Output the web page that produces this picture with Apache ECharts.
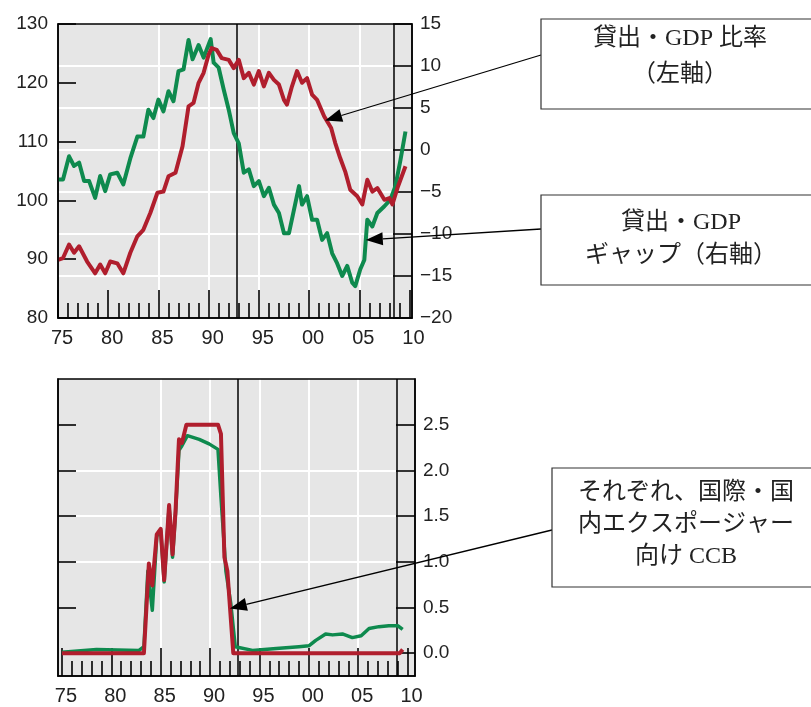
<!DOCTYPE html>
<html>
<head>
<meta charset="utf-8">
<script src="https://cdn.jsdelivr.net/npm/echarts@6/dist/echarts.min.js"></script>
<style>html,body{margin:0;padding:0;background:#fff}#c{width:811px;height:707px}</style>
</head>
<body>
<div id="c"></div>
<script>
// ---------- data ----------
const majorYears = [1975, 1980, 1985, 1990, 1995, 2000, 2005, 2010];
const gridYears = [1980, 1985, 1990, 1995, 2000, 2005, 2010];
const minorYears = [1976, 1977, 1978, 1979, 1981, 1982, 1983, 1984, 1986, 1987, 1988, 1989,
  1991, 1992, 1993, 1994, 1996, 1997, 1998, 1999, 2001, 2002, 2003, 2004, 2006, 2007, 2008, 2009];
const topBreakYears = [1992.75, 2008.4];
const bottomBreakYears = [1992.8, 2008.9];
const bottomTicks = [0.5, 1.0, 1.5, 2.0, 2.5];
const bottomLabels = [0.0, 0.5, 1.0, 1.5, 2.0, 2.5];

// Loans/GDP ratio (left axis)
const ratioYears = [1975.0, 1975.5, 1976.1, 1976.6, 1977.1, 1977.9, 1978.7, 1979.2, 1979.7, 1980.2,
  1980.9, 1981.5, 1982.2, 1982.9, 1983.5, 1984.2, 1984.9, 1985.5, 1986.0, 1986.7,
  1987.4, 1988.0, 1988.5, 1989.0, 1989.5, 1990.0, 1990.3, 1990.8, 1991.3, 1992.0,
  1992.5, 1993.0, 1993.5, 1994.0, 1994.5, 1995.0, 1995.5, 1996.0, 1996.5, 1997.0,
  1997.5, 1997.8, 1998.3, 1998.8, 1999.3, 1999.8, 2000.3, 2000.8, 2001.5, 2002.2,
  2002.6, 2003.1, 2003.6, 2004.1, 2004.8, 2005.3, 2005.8, 2006.3, 2006.8, 2007.5,
  2008.0, 2008.3, 2008.8, 2009.6];
const ratioValues = [89.9, 90.2, 92.5, 91.1, 92.2, 89.6, 87.6, 89.1, 87.6, 89.6,
  89.3, 87.6, 91.1, 93.9, 95.0, 97.9, 101.3, 101.5, 104.1, 104.7,
  109.2, 116.0, 116.6, 120.0, 121.7, 124.8, 125.9, 125.6, 124.2, 123.9,
  122.5, 123.9, 120.8, 121.7, 119.7, 122.0, 119.4, 121.7, 120.5, 119.7,
  117.1, 116.3, 119.4, 122.0, 120.0, 120.8, 118.0, 117.1, 114.3, 112.3,
  109.8, 107.2, 104.9, 101.8, 100.7, 99.3, 103.5, 101.5, 102.1, 100.1,
  100.4, 99.3, 102.1, 105.8];

// Loans/GDP gap (right axis)
const gapYears = [1975.0, 1975.5, 1976.1, 1976.6, 1977.1, 1977.6, 1978.1, 1978.7, 1979.2, 1979.7,
  1980.2, 1980.9, 1981.5, 1982.2, 1982.9, 1983.5, 1984.0, 1984.5, 1985.0, 1985.5,
  1986.0, 1986.5, 1987.0, 1987.5, 1988.0, 1988.4, 1989.0, 1989.5, 1990.2, 1990.5,
  1991.0, 1991.5, 1992.0, 1992.5, 1993.0, 1993.5, 1994.0, 1994.5, 1995.0, 1995.5,
  1996.0, 1996.5, 1997.0, 1997.5, 1998.0, 1998.5, 1999.0, 1999.3, 1999.8, 2000.3,
  2000.8, 2001.3, 2001.8, 2002.3, 2002.8, 2003.3, 2003.8, 2004.3, 2004.6, 2005.1,
  2005.5, 2005.8, 2006.3, 2006.8, 2007.5, 2008.1, 2008.6, 2009.1, 2009.6];
const gapValues = [-3.5, -3.5, -0.75, -1.9, -1.5, -3.7, -3.7, -5.7, -3.1, -4.9,
  -2.9, -2.7, -4.1, -1.0, 1.6, 1.6, 4.8, 3.8, 6.0, 4.6,
  7.0, 5.8, 9.4, 9.6, 13.1, 10.8, 12.5, 11.0, 13.2, 10.4,
  9.8, 7.2, 4.8, 2.0, 0.8, -2.7, -2.3, -4.3, -3.7, -5.5,
  -4.5, -6.5, -7.5, -9.9, -9.9, -7.1, -4.3, -6.5, -5.5, -8.3,
  -8.3, -10.7, -9.9, -12.3, -13.5, -15.0, -13.8, -15.8, -16.2, -14.2,
  -13.1, -8.3, -9.1, -7.5, -6.7, -5.9, -4.3, -1.2, 2.2];

// CCB (international exposures, green)
const ccbIntlYears = [1975.0, 1978.5, 1982.8, 1983.3, 1983.7, 1984.15, 1984.6, 1985.0, 1985.35, 1985.85,
  1986.2, 1986.5, 1986.85, 1987.15, 1987.7, 1988.9, 1989.9, 1990.8, 1991.1, 1991.6,
  1992.1, 1992.55, 1994.3, 1996.7, 1999.0, 2000.0, 2000.7, 2001.7, 2002.4, 2003.4,
  2004.4, 2005.3, 2006.1, 2007.1, 2008.1, 2009.0, 2009.5];
const ccbIntlValues = [0.01, 0.04, 0.03, 0.07, 0.90, 0.47, 1.28, 1.34, 0.78, 1.60,
  1.05, 1.53, 2.22, 2.27, 2.38, 2.34, 2.29, 2.23, 1.71, 0.90,
  0.54, 0.07, 0.03, 0.05, 0.07, 0.08, 0.14, 0.21, 0.20, 0.21,
  0.17, 0.19, 0.27, 0.29, 0.30, 0.30, 0.26];

// CCB (domestic exposures, red)
const ccbDomYears = [1975.0, 1983.3, 1983.8, 1984.15, 1984.6, 1985.0, 1985.35, 1985.85, 1986.2, 1986.5,
  1986.85, 1987.15, 1987.6, 1990.8, 1991.1, 1991.45, 1991.75, 1992.35, 2009.2, 2009.5];
const ccbDomValues = [0, 0, 0.98, 0.74, 1.30, 1.36, 0.80, 1.62, 1.08, 1.55,
  2.34, 2.30, 2.5, 2.5, 2.40, 1.05, 0.90, 0, 0, 0.04];

// ---------- helpers ----------
const zip = (xs, ys) => xs.map((x, i) => [x, ys[i]]);
const RED = '#b01e2d';
const GREEN = '#0e8a4e';
const FONT = "'Liberation Sans', Arial, sans-serif";
const TXT = '#222';
const yy = v => String(Math.round(v) % 100).padStart(2, '0');
const minus = v => (v < 0 ? '\u2212' + Math.abs(v) : String(v));

const G0 = { left: 58, top: 24, width: 354, height: 294 };
const G1 = { left: 58, top: 379, width: 357, height: 297 };

function xAxes(gridIndex, min, max) {
  const base = { type: 'value', gridIndex, min, max, position: 'bottom' };
  return [
    Object.assign({}, base, {
      z: 1,
      axisLine: { show: false, onZero: false },
      axisTick: { show: false, customValues: gridYears },
      axisLabel: { show: false },
      splitLine: { show: true, showMinLine: false, showMaxLine: false, lineStyle: { color: '#fff', width: 2 } }
    }),
    Object.assign({}, base, {
      z: 2,
      axisLine: { show: true, onZero: false, lineStyle: { color: '#000', width: 1.5 } },
      axisTick: { show: true, inside: true, length: 28, customValues: majorYears, lineStyle: { color: '#000', width: 1.6 } },
      axisLabel: { show: true, customValues: majorYears, formatter: yy, fontSize: 20, fontFamily: FONT, color: TXT, margin: 10, padding: [0, 0, 0, 8] },
      splitLine: { show: false }
    }),
    Object.assign({}, base, {
      z: 2,
      axisLine: { show: false, onZero: false },
      axisTick: { show: true, inside: true, length: 15, customValues: minorYears, lineStyle: { color: '#000', width: 1.6 } },
      axisLabel: { show: false },
      splitLine: { show: false }
    })
  ];
}

const chart = echarts.init(document.getElementById('c'), null, { renderer: 'canvas' });

const breakLine = years => ({
  silent: true, symbol: 'none', z: 1,
  label: { show: false },
  lineStyle: { color: '#000', width: 1.5, type: 'solid' },
  emphasis: { disabled: true },
  data: years.map(x => ({ xAxis: x }))
});

const option = {
  animation: false,
  backgroundColor: '#fff',
  grid: [
    Object.assign({ show: true, backgroundColor: '#e6e6e6', borderWidth: 0 }, G0),
    Object.assign({ show: true, backgroundColor: '#e6e6e6', borderWidth: 0 }, G1)
  ],
  xAxis: [].concat(xAxes(0, 1975, 2010.25), xAxes(1, 1974.6, 2010.75)),
  yAxis: [
    // top left
    { type: 'value', gridIndex: 0, position: 'left', min: 80, max: 130, interval: 10, z: 2,
      axisLine: { show: true, onZero: false, lineStyle: { color: '#000', width: 1.5 } },
      axisTick: { show: true, inside: true, length: 18, lineStyle: { color: '#000', width: 1.6 } },
      axisLabel: { fontSize: 19, fontFamily: FONT, color: TXT, margin: 10 },
      splitLine: { show: false } },
    // top right
    { type: 'value', gridIndex: 0, position: 'right', min: -20, max: 15, interval: 5, z: 2,
      axisLine: { show: true, onZero: false, lineStyle: { color: '#000', width: 1.5 } },
      axisTick: { show: true, inside: true, length: 19, lineStyle: { color: '#000', width: 1.6 } },
      axisLabel: { fontSize: 19, fontFamily: FONT, color: TXT, margin: 8, formatter: minus },
      splitLine: { show: false } },
    // top right grid lines
    { type: 'value', gridIndex: 0, position: 'right', min: -20, max: 15, interval: 5, z: 1,
      axisLine: { show: false, onZero: false }, axisTick: { show: false }, axisLabel: { show: false },
      splitLine: { show: true, showMinLine: false, showMaxLine: false, lineStyle: { color: '#fff', width: 2 } } },
    // bottom left
    { type: 'value', gridIndex: 1, position: 'left', min: -0.25, max: 3.0, z: 2,
      axisLine: { show: true, onZero: false, lineStyle: { color: '#000', width: 1.5 } },
      axisTick: { show: true, inside: true, length: 18, customValues: bottomTicks, lineStyle: { color: '#000', width: 1.6 } },
      axisLabel: { show: false },
      splitLine: { show: false } },
    // bottom right
    { type: 'value', gridIndex: 1, position: 'right', min: -0.25, max: 3.0, z: 2,
      axisLine: { show: true, onZero: false, lineStyle: { color: '#000', width: 1.5 } },
      axisTick: { show: true, inside: true, length: 19, customValues: bottomLabels, lineStyle: { color: '#000', width: 1.6 } },
      axisLabel: { customValues: bottomLabels, formatter: v => v.toFixed(1), fontSize: 19, fontFamily: FONT, color: TXT, margin: 8 },
      splitLine: { show: false } },
    // bottom grid lines
    { type: 'value', gridIndex: 1, position: 'right', min: -0.25, max: 3.0, z: 1,
      axisLine: { show: false, onZero: false },
      axisTick: { show: false, customValues: bottomTicks },
      axisLabel: { show: false },
      splitLine: { show: true, showMinLine: false, showMaxLine: false, lineStyle: { color: '#fff', width: 2 } } }
  ],
  series: [
    { type: 'line', name: '貸出・GDP ギャップ', xAxisIndex: 1, yAxisIndex: 1, z: 3,
      data: zip(gapYears, gapValues), showSymbol: false, symbol: 'none',
      lineStyle: { color: GREEN, width: 4, join: 'round' },
      markLine: breakLine(topBreakYears) },
    { type: 'line', name: '貸出・GDP 比率', xAxisIndex: 1, yAxisIndex: 0, z: 4,
      data: zip(ratioYears, ratioValues), showSymbol: false, symbol: 'none',
      lineStyle: { color: RED, width: 4, join: 'round' } },
    { type: 'line', name: 'CCB 国際', xAxisIndex: 4, yAxisIndex: 4, z: 3,
      data: zip(ccbIntlYears, ccbIntlValues), showSymbol: false, symbol: 'none',
      lineStyle: { color: GREEN, width: 3.5, join: 'round' },
      markLine: breakLine(bottomBreakYears) },
    { type: 'line', name: 'CCB 国内', xAxisIndex: 4, yAxisIndex: 4, z: 4,
      data: zip(ccbDomYears, ccbDomValues), showSymbol: false, symbol: 'none',
      lineStyle: { color: RED, width: 4, join: 'round' } }
  ]
};
chart.setOption(option);

// ---------- annotations ----------
const TFONT = "24px 'Liberation Serif', 'Noto Sans CJK JP', serif";
function border(g, id) {
  return { type: 'rect', id, z: 50, silent: true,
    shape: { x: g.left, y: g.top, width: g.width, height: g.height },
    style: { fill: 'none', stroke: '#000', lineWidth: 1.5 } };
}
function box(id, x, y, w, h) {
  return { type: 'rect', id, z: 60, silent: true, shape: { x, y, width: w, height: h },
    style: { fill: '#fff', stroke: '#333', lineWidth: 1.2 } };
}
function label(id, x, y, text, lh) {
  return { type: 'text', id, z: 61, silent: true, x, y,
    style: { text, font: TFONT, fill: '#222', align: 'center', verticalAlign: 'middle', lineHeight: lh } };
}
function arrow(id, from, tip) {
  const dx = tip[0] - from[0], dy = tip[1] - from[1];
  const len = Math.sqrt(dx * dx + dy * dy);
  const ux = dx / len, uy = dy / len;
  const hl = 17, hw = 6.5;
  const bx = tip[0] - ux * hl, by = tip[1] - uy * hl;
  return [
    { type: 'line', id: id + 'l', z: 55, silent: true,
      shape: { x1: from[0], y1: from[1], x2: bx, y2: by },
      style: { stroke: '#000', lineWidth: 1.3 } },
    { type: 'polygon', id: id + 'h', z: 55, silent: true,
      shape: { points: [tip, [bx - uy * hw, by + ux * hw], [bx + uy * hw, by - ux * hw]] },
      style: { fill: '#000' } }
  ];
}
const tip1 = chart.convertToPixel({ seriesIndex: 1 }, [2001.6, 113.6]);
const tip2 = chart.convertToPixel({ seriesIndex: 0 }, [2005.65, -10.7]);
const tip3 = chart.convertToPixel({ seriesIndex: 3 }, [1992.0, 0.49]);

chart.setOption({
  graphic: [].concat(
    [border(G0, 'b0'), border(G1, 'b1')],
    arrow('a1', [541, 55], tip1),
    arrow('a2', [541, 229], tip2),
    arrow('a3', [552, 530], tip3),
    [
      box('r1', 541, 19, 290, 90),
      label('t1', 680, 57, '貸出・GDP 比率\n（左軸）', 36),
      box('r2', 541, 195, 290, 90),
      label('t2', 681, 239, '貸出・GDP\nギャップ（右軸）', 33),
      box('r3', 552, 468, 290, 119),
      label('t3', 686, 525, 'それぞれ、国際・国\n内エクスポージャー\n向け CCB', 32)
    ]
  )
});
</script>
</body>
</html>
